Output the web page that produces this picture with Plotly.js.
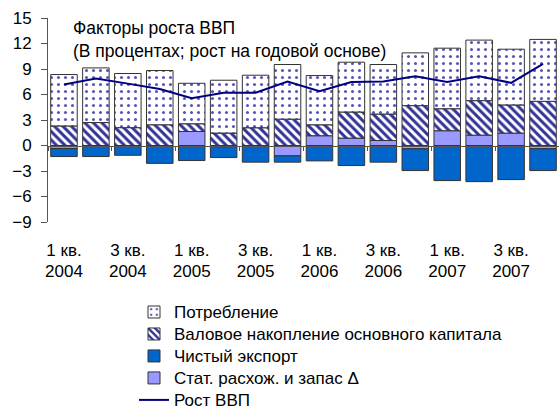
<!DOCTYPE html>
<html>
<head>
<meta charset="utf-8">
<script src="https://cdn.plot.ly/plotly-3.0.1.min.js"></script>
<style>html,body{margin:0;padding:0;background:#fff;overflow:hidden;}#wrap{width:559px;height:413px;overflow:hidden;}#chart{width:559px;height:430px;}</style>
</head>
<body>
<div id="wrap"><div id="chart"></div></div>
<script>
var categories = ["1 кв. 2004","2 кв. 2004","3 кв. 2004","4 кв. 2004",
                  "1 кв. 2005","2 кв. 2005","3 кв. 2005","4 кв. 2005",
                  "1 кв. 2006","2 кв. 2006","3 кв. 2006","4 кв. 2006",
                  "1 кв. 2007","2 кв. 2007","3 кв. 2007","4 кв. 2007"];
var tickCategories = ["1 кв. 2004","3 кв. 2004","1 кв. 2005","3 кв. 2005","1 кв. 2006","3 кв. 2006","1 кв. 2007","3 кв. 2007"];
var quarterLabels = ["1 кв.","3 кв.","1 кв.","3 кв.","1 кв.","3 кв.","1 кв.","3 кв."];
var yearLabels = ["2004","2004","2005","2005","2006","2006","2007","2007"];
var seriesNames = ["Потребление","Валовое накопление основного капитала","Чистый экспорт","Стат. расхож. и запас Δ","Рост ВВП"];
var consumption = [6.05,6.43,6.37,6.38,4.76,6.22,6.18,6.43,5.79,5.86,5.83,6.21,7.12,7.12,6.56,7.28];
var investment  = [2.30,2.70,2.10,2.44,0.91,1.46,2.09,3.10,1.29,3.07,3.11,4.69,2.59,4.06,3.31,5.20];
var netExports  = [-0.95,-1.30,-1.15,-2.10,-1.77,-1.27,-1.96,-0.74,-1.81,-2.36,-1.96,-2.56,-4.13,-4.25,-4.01,-2.56];
var statDisc    = [-0.35,0,0,0,1.65,-0.15,0,-1.22,1.15,0.87,0.59,-0.39,1.74,1.22,1.46,-0.39];
var gdpGrowth   = [7.17,7.87,7.28,6.65,5.55,6.20,6.22,7.52,6.38,7.48,7.52,8.15,7.48,8.15,7.37,9.60];
var titleLine1 = 'Факторы роста ВВП';
var titleLine2 = '(В процентах; рост на годовой основе)';

var tickIndex = tickCategories.map(function(c){ return categories.indexOf(c); });
function legendName(s){ return '<span style="font-size:17px">' + s + '</span>'; }

var outline = {color:'#333333', width:1};
var traces = [
  {type:'bar', name:legendName(seriesNames[3]), x:categories, y:statDisc, legendrank:4,
   marker:{color:'#9999ff', line:outline}},
  {type:'bar', name:legendName(seriesNames[2]), x:categories, y:netExports, legendrank:3,
   marker:{color:'#0066cc', line:outline}},
  {type:'bar', name:legendName(seriesNames[1]), x:categories, y:investment, legendrank:2,
   marker:{color:'#ffffff', line:outline, pattern:{shape:'\\', fgcolor:'#333399', bgcolor:'#ffffff', size:6, solidity:0.5}}},
  {type:'bar', name:legendName(seriesNames[0]), x:categories, y:consumption, legendrank:1,
   marker:{color:'#ffffff', line:outline, pattern:{shape:'.', fgcolor:'#5555bb', bgcolor:'#ffffff', size:7, solidity:0.15}}},
  {type:'scatter', mode:'lines', name:legendName(seriesNames[4]), x:categories, y:gdpGrowth, legendrank:5,
   line:{color:'#000080', width:2}},
  {type:'scatter', mode:'lines', x:[0,15], y:[0,0], xaxis:'x2', yaxis:'y', showlegend:false, hoverinfo:'skip',
   line:{color:'rgba(0,0,0,0)', width:0}},
  {type:'scatter', mode:'lines', x:[0,15], y:[0,0], xaxis:'x3', yaxis:'y', showlegend:false, hoverinfo:'skip',
   line:{color:'rgba(0,0,0,0)', width:0}}
];

var layout = {
  width:559, height:430,
  margin:{l:48, r:0, t:18, b:208},
  paper_bgcolor:'#ffffff', plot_bgcolor:'#ffffff',
  barmode:'relative', bargap:0.17,
  font:{family:'Liberation Sans, Arial, sans-serif', color:'#000000', size:16},
  annotations:[
    {text:titleLine1, xref:'paper', yref:'paper', x:(72-48)/511, y:(222-28.2)/204, xanchor:'left', yanchor:'middle',
     showarrow:false, borderpad:0, font:{size:17.5, color:'#000000'}},
    {text:titleLine2, xref:'paper', yref:'paper', x:(72-48)/511, y:(222-50.6)/204, xanchor:'left', yanchor:'middle',
     showarrow:false, borderpad:0, font:{size:17.5, color:'#000000'}}
  ],
  xaxis:{type:'category', range:[-0.5,15.5], showline:false, showgrid:false, zeroline:false, ticks:'',
         tickmode:'array', tickvals:tickCategories, ticktext:quarterLabels, tickangle:0,
         ticklabelstandoff:16, tickfont:{size:17}},
  xaxis2:{overlaying:'x', anchor:'free', position:0.375, range:[-0.5,15.5], type:'linear',
          showline:true, linecolor:'#555555', linewidth:1, showgrid:false, zeroline:false,
          ticks:'outside', ticklen:4, tickcolor:'#555555', tick0:-0.5, dtick:2, showticklabels:false},
  xaxis3:{overlaying:'x', anchor:'y', side:'bottom', range:[-0.5,15.5], type:'linear',
          showline:false, showgrid:false, zeroline:false, ticks:'',
          tickmode:'array', tickvals:tickIndex, ticktext:yearLabels, tickangle:0,
          ticklabelstandoff:37, tickfont:{size:17}},
  yaxis:{range:[-9,15], dtick:3, tick0:0, showline:true, linecolor:'#555555', linewidth:1,
         ticks:'outside', ticklen:6, tickcolor:'#555555', showgrid:false, zeroline:false,
         ticklabelstandoff:6, tickfont:{size:17}},
  showlegend:true,
  legend:{x:(134-48)/511, y:(222-296)/204, xanchor:'left', yanchor:'top',
          orientation:'v', font:{size:14.6}, tracegroupgap:0, bgcolor:'rgba(0,0,0,0)'}
};

Plotly.newPlot('chart', traces, layout, {displayModeBar:false, staticPlot:true});
</script>
</body>
</html>
